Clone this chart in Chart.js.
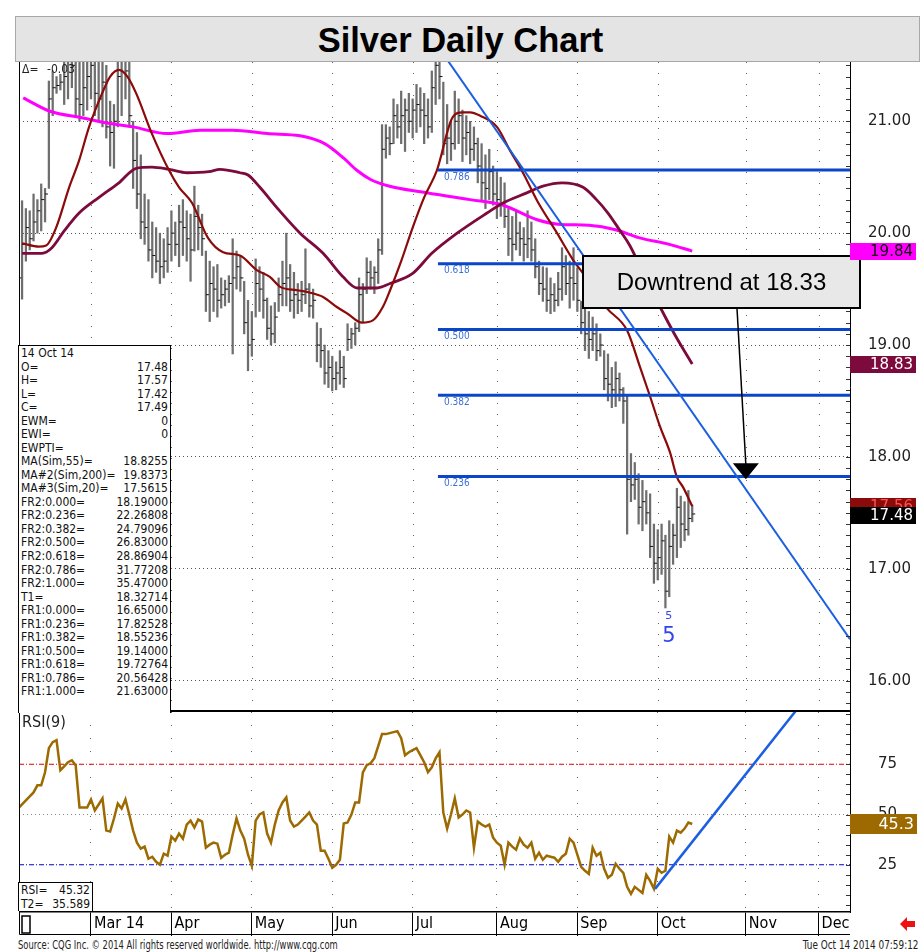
<!DOCTYPE html>
<html>
<head>
<meta charset="utf-8">
<script src="https://cdn.jsdelivr.net/npm/chart.js@4.4.1/dist/chart.umd.min.js"></script>
<style>
  body { margin: 0; background: #fff; width: 923px; height: 952px; position: relative; overflow: hidden; font-family: "Liberation Sans", Arial, sans-serif; }
  #title { position: absolute; left: 15px; top: 16px; width: 889px; padding-right: 14px; height: 44px; background: #e4e4e4; border: 1px solid #a8a8a8; font-weight: bold; font-size: 34.5px; line-height: 46px; text-align: center; color: #000; }
  canvas { position: absolute; left: 19px; }
  #priceChart { top: 62px; }
  #rsiChart { top: 712px; }
  .box { position: absolute; background: #fff; border-top: 1px solid #000; border-right: 1px solid #000; border-left: 1px solid #000; font: 12px "DejaVu Sans Condensed", "Liberation Sans Narrow", sans-serif; color: #111; z-index: 2; }
  .box div { display: flex; justify-content: space-between; padding: 0 2px 0 2px; }
  #info { left: 18px; top: 345px; width: 151px; height: 366px; padding-top: 1px; }
  #info div { height: 13.54px; line-height: 13.54px; }
  #rsiInfo { left: 18px; top: 882px; width: 73px; height: 28px; }
  #rsiInfo div { height: 14px; line-height: 14px; }
  .foot { position: absolute; top: 938px; font: 11.5px "Liberation Sans Narrow", "DejaVu Sans Condensed", sans-serif; color: #222; white-space: nowrap; }
  #src { left: 18px; transform: scaleX(0.81); transform-origin: left center; }
  #stamp { right: 5px; transform: scaleX(0.86); transform-origin: right center; }
</style>
</head>
<body>
<div id="title">Silver Daily Chart</div>
<canvas id="priceChart" width="902" height="650"></canvas>
<canvas id="rsiChart" width="902" height="224"></canvas>
<div id="info" class="box"></div>
<div id="rsiInfo" class="box"></div>
<div id="src" class="foot">Source: CQG Inc. © 2014 All rights reserved worldwide. http://www.cqg.com</div>
<div id="stamp" class="foot">Tue Oct 14 2014 07:59:12</div>
<script>
// trading days from 3 Feb 2014 (index 0) to 14 Oct 2014 (index 176)
var highs = [
  19.95, 20.29, 20.22, 20.20, 20.35, 20.30, 20.44, 20.40, 21.36, 21.45,
  21.40, 21.42, 21.60, 21.75, 22.10, 21.80, 21.60, 21.55, 21.70, 21.80,
  21.65, 21.55, 21.60, 21.50, 21.18, 21.15, 21.60, 21.75, 21.80, 21.55,
  21.00, 20.90, 20.70, 20.35, 20.30, 20.10, 20.05, 20.00, 19.95, 20.05,
  20.20, 20.10, 20.25, 20.30, 20.20, 20.17, 20.42, 20.25, 20.17, 19.84,
  19.75, 19.70, 19.72, 19.60, 19.58, 19.62, 19.95, 19.84, 19.80, 19.57,
  19.40, 19.30, 19.77, 19.70, 19.65, 19.42, 19.35, 19.38, 19.60, 19.75,
  20.00, 19.72, 19.65, 19.55, 19.57, 19.86, 19.55, 19.50, 19.20, 19.15,
  19.00, 18.95, 18.90, 18.85, 18.95, 18.90, 19.19, 19.15, 19.20, 19.60,
  19.55, 19.78, 19.75, 19.70, 19.95, 20.97, 20.97, 20.95, 21.20, 21.15,
  21.27, 21.20, 21.25, 21.20, 21.33, 21.30, 21.25, 21.20, 21.45, 21.63,
  21.60, 21.35, 21.15, 21.00, 21.27, 21.20, 21.10, 21.05, 21.00, 20.95,
  20.85, 20.80, 20.70, 20.75, 20.60, 20.55, 20.50, 20.45, 20.22, 20.15,
  20.20, 20.10, 20.05, 20.20, 20.10, 19.95, 19.75, 19.70, 19.69, 19.60,
  19.55, 19.65, 19.87, 19.80, 19.75, 19.87, 19.69, 19.39, 19.35, 19.30,
  19.25, 19.19, 19.10, 18.95, 18.92, 18.80, 18.85, 18.75, 18.62, 18.55,
  18.03, 17.95, 17.85, 17.79, 17.70, 17.67, 17.40, 17.35, 17.40, 17.30,
  17.43, 17.40, 17.72, 17.65, 17.60, 17.70, 17.57
];
var lows = [
  19.40, 19.41, 19.75, 19.85, 19.93, 20.00, 20.02, 20.10, 20.40, 21.05,
  21.25, 21.28, 21.15, 21.20, 21.30, 21.05, 21.00, 21.05, 21.10, 21.20,
  21.05, 21.00, 20.95, 20.85, 20.60, 20.58, 20.95, 21.05, 21.20, 20.95,
  20.40, 20.22, 19.95, 19.90, 19.75, 19.60, 19.65, 19.55, 19.60, 19.65,
  19.75, 19.80, 19.70, 19.80, 19.75, 19.57, 19.84, 19.85, 19.80, 19.30,
  19.21, 19.30, 19.25, 19.33, 19.35, 19.38, 18.92, 19.50, 19.48, 19.10,
  18.77, 18.90, 19.25, 19.30, 19.24, 19.05, 19.00, 19.02, 19.30, 19.35,
  19.35, 19.30, 19.24, 19.28, 19.30, 19.37, 19.25, 19.24, 18.85, 18.80,
  18.65, 18.62, 18.59, 18.60, 18.65, 18.62, 18.95, 18.97, 19.00, 19.12,
  19.20, 19.46, 19.50, 19.46, 19.55, 19.81, 20.67, 20.70, 20.80, 20.85,
  20.80, 20.73, 20.90, 20.85, 20.90, 20.95, 20.80, 20.85, 20.90, 21.15,
  21.20, 20.70, 20.62, 20.65, 20.75, 20.80, 20.64, 20.70, 20.62, 20.65,
  20.45, 20.30, 20.22, 20.30, 20.25, 20.13, 20.15, 20.05, 19.80, 19.75,
  19.85, 19.80, 19.75, 19.78, 19.75, 19.60, 19.45, 19.39, 19.30, 19.28,
  19.30, 19.35, 19.40, 19.45, 19.33, 19.40, 19.30, 19.10, 18.95, 18.88,
  18.95, 18.86, 18.90, 18.60, 18.50, 18.44, 18.45, 18.50, 18.30, 17.31,
  17.60, 17.62, 17.40, 17.34, 17.40, 17.10, 16.87, 16.90, 16.95, 16.65,
  16.75, 17.04, 17.10, 17.19, 17.25, 17.30, 17.42
];
var closes = [
  19.60, 19.90, 20.05, 19.95, 20.10, 20.20, 20.30, 20.35, 21.20, 21.30,
  21.32, 21.35, 21.40, 21.55, 21.50, 21.20, 21.15, 21.30, 21.40, 21.50,
  21.25, 21.20, 21.35, 20.95, 20.90, 21.00, 21.40, 21.55, 21.45, 21.05,
  20.65, 20.35, 20.10, 20.05, 19.85, 19.80, 19.75, 19.70, 19.75, 19.90,
  20.00, 19.90, 20.10, 20.05, 19.95, 19.85, 20.15, 20.05, 19.95, 19.45,
  19.55, 19.50, 19.40, 19.45, 19.50, 19.55, 19.60, 19.70, 19.60, 19.20,
  19.00, 19.05, 19.55, 19.50, 19.40, 19.15, 19.10, 19.25, 19.45, 19.55,
  19.60, 19.40, 19.45, 19.40, 19.45, 19.50, 19.35, 19.40, 19.00, 18.95,
  18.75, 18.80, 18.70, 18.75, 18.80, 18.70, 19.05, 19.10, 19.15, 19.45,
  19.50, 19.65, 19.60, 19.65, 19.85, 20.75, 20.85, 20.80, 21.05, 20.95,
  21.05, 21.10, 21.00, 21.10, 21.15, 21.10, 21.05, 20.95, 21.30, 21.50,
  21.40, 20.80, 20.85, 20.80, 21.00, 21.05, 20.85, 20.90, 20.75, 20.80,
  20.60, 20.45, 20.40, 20.55, 20.35, 20.30, 20.25, 20.15, 19.95, 19.90,
  20.00, 19.95, 19.90, 19.95, 19.85, 19.70, 19.55, 19.50, 19.40, 19.45,
  19.40, 19.50, 19.70, 19.55, 19.60, 19.55, 19.40, 19.20, 19.10, 19.05,
  19.10, 18.95, 19.00, 18.70, 18.65, 18.60, 18.70, 18.60, 18.50, 17.80,
  17.75, 17.80, 17.55, 17.60, 17.50, 17.20, 17.05, 17.10, 17.25, 16.80,
  17.20, 17.30, 17.55, 17.40, 17.35, 17.45, 17.49
];
var rsi = [
  53, 55, 57, 59, 61, 64.5, 64.5, 71, 83, 86,
  87, 72, 74, 76, 77, 74.5, 53.5, 53.5, 53.5, 57.5,
  52, 55, 58, 42, 41.5, 48, 55.5, 53, 57.5, 50,
  42, 36, 33, 34, 28, 29, 26.5, 25, 30.5, 29.5,
  39, 37, 40.5, 38, 45, 47, 43.5, 47.5, 46.5, 33.5,
  35, 36, 35.5, 28.5, 30, 31, 40, 48, 42, 38,
  30, 24.5, 47, 50, 51, 40.5, 36, 45, 52, 56,
  58.5, 47, 44, 45, 47, 49, 51, 47, 45, 32,
  32, 28, 23.5, 25, 27.5, 45.5, 46, 50, 56, 56,
  71, 74.5, 75.5, 78, 84, 90, 90, 90.5, 91, 91.5,
  88, 79.5, 81, 82, 83, 79.5, 76, 71, 73.5, 78,
  81, 51, 43, 50, 58, 48.5, 50, 52, 51, 33.5,
  46.5, 45, 44, 45, 38.5, 36, 34.5, 25, 36, 34,
  32.5, 38, 35, 33.5, 36, 28, 31, 27.5, 29.5, 29,
  28.5, 26.5, 29, 30.5, 38, 36, 30, 24, 22, 20.5,
  33.5, 29.5, 31, 23, 18.5, 20, 25.5, 23, 21, 14,
  10.5, 14, 12.5, 11, 20, 17, 13, 23, 21, 22,
  39, 36, 42, 41, 43, 46, 45.3
];

// moving averages as [trading day index, value]
var ma20 = [[1, 19.91], [5.4, 19.88], [7.3, 19.89], [9.9, 20.05], [13.3, 20.41], [15.9, 20.65], [18.5, 20.95],
  [21.9, 21.25], [24, 21.40], [26.3, 21.46], [28.5, 21.40], [30.8, 21.25], [34.9, 20.89], [39.4, 20.56],
  [42, 20.41], [45.4, 20.27], [49.5, 19.96], [53.5, 19.83], [57.9, 19.80], [62.3, 19.67], [65.7, 19.61],
  [68.4, 19.52], [72.8, 19.49], [76, 19.47], [79.6, 19.43], [83.2, 19.34], [86, 19.28], [89.8, 19.20],
  [92.6, 19.22], [95.2, 19.34], [97.1, 19.49], [100, 19.75], [103, 20.05], [106, 20.32], [109.3, 20.56],
  [113.5, 21.04], [116.1, 21.08], [118, 21.08], [120.6, 21.05], [125, 20.95], [128.4, 20.74], [131.8, 20.54],
  [135.5, 20.29], [140.7, 20.0], [144.9, 19.76], [147.5, 19.64], [153.7, 19.33], [159, 19.13], [162.4, 18.80],
  [165, 18.54], [167.6, 18.27], [170.2, 18.04], [172, 17.82], [173.6, 17.73], [176, 17.56]];
var ma55 = [[1, 19.82], [6.2, 19.82], [8.8, 19.87], [12, 20.02], [15.9, 20.18], [21.1, 20.32], [26.3, 20.45],
  [30.8, 20.58], [34.9, 20.59], [39.4, 20.57], [44.1, 20.54], [49.8, 20.55], [52.7, 20.57], [57.9, 20.54],
  [60, 20.52], [63.1, 20.41], [68, 20.21], [73.6, 20.0], [79.6, 19.82], [84.8, 19.61], [88.5, 19.51],
  [93.7, 19.51], [97.1, 19.55], [103, 19.64], [108, 19.82], [114.6, 20.0], [122.4, 20.18], [126.6, 20.27],
  [132.8, 20.36], [137, 20.42], [142, 20.45], [147.5, 20.41], [151, 20.30], [154, 20.18], [157, 20.03],
  [159.7, 19.89], [163.5, 19.62], [167.6, 19.34], [171.5, 19.09], [176, 18.83]];
var ma200 = [[1.3, 21.21], [8.3, 21.09], [16.9, 21.03], [24, 20.98], [30, 20.95], [38.8, 20.89], [47.5, 20.92],
  [56, 20.92], [65, 20.89], [73.6, 20.87], [80, 20.80], [85, 20.67], [88.5, 20.56], [92, 20.48], [97, 20.42],
  [105, 20.37], [118, 20.30], [126.6, 20.25], [135.5, 20.12], [141, 20.08], [149, 20.07], [156, 20.03],
  [162, 19.96], [170, 19.90], [176, 19.84]];

var fibLevels = [20.56428, 19.72764, 19.14000, 18.55236, 17.82528];
var fibNames = ['0.786', '0.618', '0.500', '0.382', '0.236'];
var fibStart = 109.6;
var priceTrend = [[110.4, 21.63], [217.2, 16.37]];
var rsiTrend = [[166.3, 13], [217.2, 135.7]];
var lastPrice = 17.48;
var rsiLast = 45.32;

var monthIdx = [19, 40, 61, 82, 103, 125, 146, 167, 190, 209];
var monthNames = ['Mar 14', 'Apr', 'May', 'Jun', 'Jul', 'Aug', 'Sep', 'Oct', 'Nov', 'Dec'];
var priceTicks = [16, 17, 18, 19, 20, 21];
var rsiTicks = [25, 50, 75];
var xMin = 0.2, xMax = 217.2;

var infoRows = [['14 Oct 14', ''], ['O=', '17.48'], ['H=', '17.57'], ['L=', '17.42'], ['C=', '17.49'],
  ['EWM=', '0'], ['EWI=', '0'], ['EWPTI=', ''], ['MA(Sim,55)=', '18.8255'], ['MA#2(Sim,200)=', '19.8373'],
  ['MA#3(Sim,20)=', '17.5615'], ['FR2:0.000=', '18.19000'], ['FR2:0.236=', '22.26808'], ['FR2:0.382=', '24.79096'],
  ['FR2:0.500=', '26.83000'], ['FR2:0.618=', '28.86904'], ['FR2:0.786=', '31.77208'], ['FR2:1.000=', '35.47000'],
  ['T1=', '18.32714'], ['FR1:0.000=', '16.65000'], ['FR1:0.236=', '17.82528'], ['FR1:0.382=', '18.55236'],
  ['FR1:0.500=', '19.14000'], ['FR1:0.618=', '19.72764'], ['FR1:0.786=', '20.56428'], ['FR1:1.000=', '21.63000']];

function toPts(list) { return list.map(function (p) { return { x: p[0], y: p[1] }; }); }
function fillBox(id, rows) {
  document.getElementById(id).innerHTML = rows.map(function (r) {
    return '<div><span>' + r[0] + '</span><span>' + r[1] + '</span></div>';
  }).join('');
}
fillBox('info', infoRows);
fillBox('rsiInfo', [['RSI=', '45.32'], ['T2=', '35.589']]);

var condensed = '"DejaVu Sans Condensed", "Liberation Sans Narrow", sans-serif';

// right axis: fixed width and no extra vertical padding
function fixAxis(s) {
  s.width = 71;
  s.paddingTop = 0;
  s.paddingBottom = 0;
}

// extra drawing for the price panel
var priceDecor = {
  id: 'priceDecor',
  beforeDatasetsDraw: function (chart) {
    var ctx = chart.ctx, a = chart.chartArea, x = chart.scales.x;
    ctx.save();
    ctx.strokeStyle = '#666';
    ctx.lineWidth = 1;
    ctx.setLineDash([1, 10]);
    monthIdx.forEach(function (m) {
      var px = Math.round(x.getPixelForValue(m)) + 0.5;
      ctx.beginPath(); ctx.moveTo(px, a.top); ctx.lineTo(px, a.bottom); ctx.stroke();
    });
    ctx.restore();
  },
  afterDraw: function (chart) {
    var ctx = chart.ctx, a = chart.chartArea, x = chart.scales.x, y = chart.scales.y;
    ctx.save();
    // small ticks on the price axis
    ctx.strokeStyle = '#333';
    ctx.lineWidth = 1;
    for (var k = 158; k <= 215; k++) {
      var py = Math.round(y.getPixelForValue(k / 10)) + 0.5;
      ctx.beginPath(); ctx.moveTo(a.right - 4, py); ctx.lineTo(a.right, py); ctx.stroke();
    }
    // fibonacci labels
    ctx.font = '10px ' + condensed;
    ctx.fillStyle = '#3c6fd6';
    ctx.textAlign = 'left';
    ctx.textBaseline = 'top';
    fibLevels.forEach(function (v, i) {
      ctx.fillText(fibNames[i], x.getPixelForValue(fibStart) + 6, y.getPixelForValue(v) + 2);
    });
    // delta readout
    ctx.fillStyle = '#222';
    ctx.font = '12px ' + condensed;
    ctx.fillText('\u0394=', a.left + 3, a.top + 2);
    ctx.fillText('-0.03', a.left + 28, a.top + 2);
    // wave count
    ctx.fillStyle = '#3344ee';
    ctx.textAlign = 'center';
    ctx.textBaseline = 'middle';
    ctx.font = '11px "DejaVu Sans", sans-serif';
    ctx.fillText('5', x.getPixelForValue(169.9), y.getPixelForValue(16.58));
    ctx.font = '21px "DejaVu Sans", sans-serif';
    ctx.fillText('5', x.getPixelForValue(169.9), y.getPixelForValue(16.39));
    // downtrend note
    var bx0 = Math.round(x.getPixelForValue(147.5)), bx1 = a.right + 10;
    var by0 = Math.round(y.getPixelForValue(19.80)), by1 = Math.round(y.getPixelForValue(19.33));
    ctx.fillStyle = '#e8e8e8';
    ctx.fillRect(bx0, by0, bx1 - bx0, by1 - by0);
    ctx.strokeStyle = '#000';
    ctx.lineWidth = 2;
    ctx.strokeRect(bx0, by0, bx1 - bx0, by1 - by0);
    ctx.fillStyle = '#000';
    ctx.font = '24px "Liberation Sans", Arial, sans-serif';
    ctx.fillText('Downtrend at 18.33', (bx0 + bx1) / 2, (by0 + by1) / 2 + 1);
    var tipX = x.getPixelForValue(190), tipY = y.getPixelForValue(17.80);
    ctx.lineWidth = 1.5;
    ctx.beginPath(); ctx.moveTo(x.getPixelForValue(187.7), by1 + 1); ctx.lineTo(tipX, tipY - 15); ctx.stroke();
    ctx.beginPath(); ctx.moveTo(tipX - 13, tipY - 16); ctx.lineTo(tipX + 13, tipY - 16); ctx.lineTo(tipX, tipY); ctx.closePath(); ctx.fill();
    // last value tags
    var tags = [
      [ma200[ma200.length - 1][1], '#ff00ff', '#111'],
      [ma55[ma55.length - 1][1], '#7d0a3c', '#fff'],
      [ma20[ma20.length - 1][1], '#8b0a0a', '#ff5050'],
      [lastPrice, '#000', '#fff']
    ];
    ctx.font = '15px "DejaVu Sans", sans-serif';
    ctx.textAlign = 'right';
    tags.forEach(function (t) {
      var ty = y.getPixelForValue(t[0]);
      ctx.fillStyle = t[1];
      ctx.fillRect(a.right, Math.round(ty - 8.5), 66, 17);
      ctx.fillStyle = t[2];
      ctx.fillText(t[0].toFixed(2), a.right + 63, ty + 1);
    });
    // frame
    ctx.strokeStyle = '#000';
    ctx.lineWidth = 1;
    ctx.beginPath(); ctx.moveTo(a.left + 0.5, a.top); ctx.lineTo(a.left + 0.5, a.bottom); ctx.stroke();
    ctx.lineWidth = 2;
    ctx.beginPath(); ctx.moveTo(a.left, a.bottom - 1); ctx.lineTo(a.right, a.bottom - 1); ctx.stroke();
    ctx.restore();
  }
};

var priceDatasets = [
  { type: 'line', data: toPts(priceTrend), borderColor: '#1b5fe0', borderWidth: 2, pointRadius: 0 }
];
fibLevels.forEach(function (v) {
  priceDatasets.push({ type: 'line', data: [{ x: fibStart, y: v }, { x: xMax, y: v }], borderColor: '#0a46c8', borderWidth: 3, pointRadius: 0 });
});
priceDatasets.push(
  { type: 'line', data: toPts(ma20), borderColor: '#8b0a0a', borderWidth: 2.2, pointRadius: 0, cubicInterpolationMode: 'monotone' },
  { type: 'line', data: toPts(ma55), borderColor: '#7d0a3c', borderWidth: 2.8, pointRadius: 0, cubicInterpolationMode: 'monotone' },
  { type: 'line', data: toPts(ma200), borderColor: '#ff00ff', borderWidth: 3, pointRadius: 0, cubicInterpolationMode: 'monotone' },
  { type: 'line', data: closes.map(function (c, i) { return { x: i + 0.4, y: c }; }), showLine: false,
    pointStyle: 'line', pointRadius: 1.5, pointBorderColor: '#111', pointBorderWidth: 1 },
  { type: 'bar', data: highs.map(function (h, i) { return { x: i, y: [lows[i], h] }; }),
    backgroundColor: '#6e6e6e', barThickness: 1.6, grouped: false }
);

new Chart(document.getElementById('priceChart'), {
  type: 'bar',
  data: { datasets: priceDatasets },
  options: {
    responsive: false,
    animation: false,
    events: [],
    layout: { padding: 0, autoPadding: false },
    plugins: { legend: { display: false }, tooltip: { enabled: false } },
    scales: {
      x: { type: 'linear', min: xMin, max: xMax, offset: false, display: false, grid: { offset: false } },
      y: {
        position: 'right', min: 15.72, max: 21.53,
        afterFit: fixAxis,
        afterBuildTicks: function (s) { s.ticks = priceTicks.map(function (v) { return { value: v }; }); },
        ticks: { callback: function (v) { return v.toFixed(2); }, color: '#222', padding: 18, font: { family: '"DejaVu Sans", sans-serif', size: 15 } },
        grid: { color: '#555', lineWidth: 1, drawTicks: false },
        border: { display: true, color: '#000', width: 1, dash: [1, 3] }
      }
    }
  },
  plugins: [priceDecor]
});

// extra drawing for the RSI panel
var rsiDecor = {
  id: 'rsiDecor',
  afterDraw: function (chart) {
    var ctx = chart.ctx, a = chart.chartArea, y = chart.scales.y;
    ctx.save();
    ctx.strokeStyle = '#333';
    ctx.lineWidth = 1;
    for (var v = 5; v <= 100; v += 5) {
      var py = Math.round(y.getPixelForValue(v)) + 0.5;
      ctx.beginPath(); ctx.moveTo(a.right - 4, py); ctx.lineTo(a.right, py); ctx.stroke();
    }
    ctx.fillStyle = '#222';
    ctx.font = '16px ' + condensed;
    ctx.textAlign = 'left';
    ctx.textBaseline = 'top';
    ctx.fillText('RSI(9)', a.left + 3, a.top + 3);
    // last value tag
    var ty = y.getPixelForValue(rsiLast);
    ctx.fillStyle = '#9c6a00';
    ctx.fillRect(a.right, Math.round(ty - 10), 67, 20);
    ctx.fillStyle = '#fff';
    ctx.font = '16px "DejaVu Sans", sans-serif';
    ctx.textAlign = 'right';
    ctx.textBaseline = 'middle';
    ctx.fillText(rsiLast.toFixed(1), a.right + 64, ty + 1);
    // frame and date strip
    ctx.strokeStyle = '#000';
    ctx.lineWidth = 1;
    var bottom = chart.height - 1.5;
    ctx.beginPath(); ctx.moveTo(a.left + 0.5, a.top); ctx.lineTo(a.left + 0.5, bottom); ctx.lineTo(a.right, bottom); ctx.stroke();
    ctx.lineWidth = 1.5;
    ctx.strokeRect(a.left + 3, a.bottom + 4, 8, 17);
    // red arrow
    ctx.fillStyle = '#ee1111';
    var ax = a.right + 50, ay = a.bottom + 12;
    ctx.beginPath();
    ctx.moveTo(ax, ay); ctx.lineTo(ax + 7, ay - 7); ctx.lineTo(ax + 7, ay - 3); ctx.lineTo(ax + 15, ay - 3);
    ctx.lineTo(ax + 15, ay + 3); ctx.lineTo(ax + 7, ay + 3); ctx.lineTo(ax + 7, ay + 7); ctx.closePath(); ctx.fill();
    ctx.restore();
  }
};

function level(v, color, dash) {
  return { data: [{ x: xMin, y: v }, { x: xMax, y: v }], borderColor: color, borderWidth: 1, borderDash: dash, pointRadius: 0 };
}

new Chart(document.getElementById('rsiChart'), {
  type: 'line',
  data: {
    datasets: [
      { data: toPts(rsiTrend), borderColor: '#1b5fe0', borderWidth: 2.5, pointRadius: 0 },
      { data: rsi.map(function (v, i) { return { x: i, y: v }; }), borderColor: '#9c6a00', borderWidth: 2.5, pointRadius: 0 },
      level(75, '#dd0000', [5, 2, 1, 2]),
      level(50, '#888', [1, 3]),
      level(25, '#0000cc', [5, 2, 1, 2])
    ]
  },
  options: {
    responsive: false,
    animation: false,
    events: [],
    layout: { padding: 0, autoPadding: false },
    plugins: { legend: { display: false }, tooltip: { enabled: false } },
    scales: {
      x: {
        type: 'linear', min: xMin, max: xMax, offset: false,
        afterFit: function (s) { s.height = 24; },
        afterBuildTicks: function (s) { s.ticks = monthIdx.map(function (v) { return { value: v }; }); },
        ticks: {
          callback: function (v) { return monthNames[monthIdx.indexOf(v)]; },
          align: 'start', labelOffset: 3, padding: -22, maxRotation: 0, autoSkip: false,
          color: '#000', font: { family: condensed, size: 16 }
        },
        grid: { offset: false, color: '#666', lineWidth: 1, drawTicks: true, tickLength: 24, tickColor: '#000', tickWidth: 1, tickBorderDash: [] },
        border: { display: true, color: '#000', width: 1.5, dash: [1, 12] }
      },
      y: {
        position: 'right', min: 1.5, max: 101,
        afterFit: fixAxis,
        afterBuildTicks: function (s) { s.ticks = rsiTicks.map(function (v) { return { value: v }; }); },
        ticks: { color: '#222', padding: 28, font: { family: '"DejaVu Sans", sans-serif', size: 15 } },
        grid: { display: false, drawTicks: false },
        border: { display: true, color: '#000', width: 1 }
      }
    }
  },
  plugins: [rsiDecor]
});
</script>
</body>
</html>
